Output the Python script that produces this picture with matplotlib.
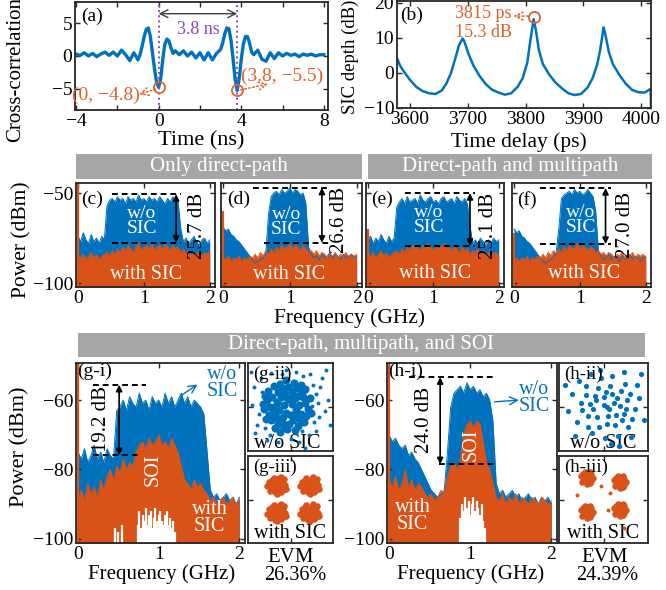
from __future__ import annotations

import os

import matplotlib as mpl
import matplotlib.pyplot as plt
from matplotlib import font_manager
from matplotlib.patches import Rectangle


W, H = 666, 590
BLUE = "#0072BD"
ORANGE = "#D95319"
NOTE = "#E0602A"
PURPLE = "#8E44C8"
ARROW_GREY = "#404040"
BANNER = "#A6A6A6"
SPINE = "#262626"

# (a) cross-correlation
CORR_T = [-4.0, -3.8, -3.6, -3.4, -3.2, -3.0, -2.8, -2.6, -2.4, -2.2, -2.0, -1.8, -1.6, -1.4,
          -1.2, -1.0, -0.9, -0.8, -0.7, -0.6, -0.5, -0.4, -0.3, -0.2, -0.1, 0.0, 0.1, 0.2,
          0.3, 0.4, 0.5, 0.6, 0.7, 0.8, 1.0, 1.2, 1.4, 1.6, 1.8, 2.0, 2.2, 2.4, 2.6, 2.8,
          3.0, 3.1, 3.2, 3.3, 3.4, 3.5, 3.6, 3.7, 3.8, 3.9, 4.0, 4.1, 4.2, 4.3, 4.4, 4.5,
          4.6, 4.8, 5.0, 5.2, 5.4, 5.6, 5.8, 6.0, 6.2, 6.4, 6.6, 6.8, 7.0, 7.2, 7.4, 7.6,
          7.8, 8.0]
CORR_V = [0.3, 0.1, 0.5, 0.0, 0.4, -0.1, 0.3, 0.6, 0.1, 0.6, 0.0, 0.9, 0.2, -0.7,
          0.5, -0.6, 0.2, 1.5, 3.0, 4.1, 4.3, 3.0, 0.5, -2.0, -4.0, -4.8, -3.5, -0.5,
          1.8, 2.6, 2.3, 1.2, 0.4, 0.8, 0.2, 0.8, 0.0, 0.6, -0.3, 0.5, -0.6, 0.5, -0.6, 0.4,
          1.0, 2.0, 3.4, 4.3, 4.2, 2.5, -0.3, -3.5, -5.3, -3.5, -0.5, 1.8, 3.0, 3.0, 2.0, 0.6,
          0.2, 0.9, -0.5, -0.8, 0.5, -0.4, 0.5, 0.0, 0.4, 0.1, 0.3, -0.1, 0.3, 0.1, 0.3, 0.0,
          0.2, 0.2]

# (b) SIC depth vs time delay
DELAY_PS = [3578, 3583, 3589, 3600, 3611, 3622, 3633, 3644, 3655, 3663, 3671, 3679, 3685, 3691,
            3694, 3701, 3710, 3721, 3731, 3742, 3753, 3764, 3775, 3786, 3795, 3803, 3808, 3814,
            3818, 3823, 3830, 3841, 3852, 3863, 3874, 3885, 3896, 3907, 3916, 3924, 3929, 3935,
            3938, 3944, 3951, 3962, 3973, 3984, 3995, 4006, 4014, 4016.5, 4017]
SIC_DB = [4.0, 2.0, 0.5, -2.0, -4.0, -5.2, -5.8, -6.0, -5.0, -3.0, 0.0, 4.5, 8.0, 9.8,
          9.0, 5.5, 2.0, -1.0, -3.2, -4.8, -5.6, -6.2, -5.8, -4.0, -1.5, 3.0, 9.0, 15.3,
          12.0, 6.5, 2.5, -0.5, -2.8, -4.4, -5.8, -6.3, -6.0, -4.2, -1.5, 2.5, 6.5, 13.0,
          11.0, 6.0, 2.5, -0.5, -3.0, -4.8, -5.5, -5.6, -4.8, -4.5, -10.0]
PEAK_PS, PEAK_DB = 3815, 15.3

# spectra (c)-(h), top of each trace in dBm
FREQ = [0.00, 0.04, 0.08, 0.12, 0.16, 0.20, 0.24, 0.28, 0.32, 0.36, 0.40, 0.44, 0.48,
        0.52, 0.56, 0.60, 0.64, 0.68, 0.72, 0.76, 0.80, 0.84, 0.88, 0.92, 0.96, 1.00,
        1.04, 1.08, 1.12, 1.16, 1.20, 1.24, 1.28, 1.32, 1.36, 1.40, 1.44, 1.48, 1.52,
        1.56, 1.60, 1.64, 1.68, 1.72, 1.76, 1.80, 1.84, 1.88, 1.92, 1.96, 2.00]

C_WO = [-74, -77, -72, -76, -78, -73, -77, -75, -78, -74, -76, -57,
        -54, -53, -55, -52, -54, -53, -56, -52, -54, -53, -55, -51, -54, -53, -55, -52,
        -54, -53, -55, -52, -54, -56, -53, -55, -52, -54, -55,
        -70, -77, -75, -78, -76, -74, -77, -79, -76, -75, -78, -76]
C_WITH = [-85, -86, -84, -87, -85, -83, -86, -84, -87, -85, -84,
          -83, -85, -82, -84, -81, -83, -80, -82, -79, -81,
          -83, -80, -78, -82, -80, -79, -81, -78, -82, -80,
          -79, -81, -78, -80, -82, -79, -81, -80, -83, -81,
          -84, -82, -85, -83, -84, -82, -85, -83, -84, -82]
D_WO = [-69, -71, -70, -73, -74, -76, -77, -79, -81, -83, -85, -87,
        -89, -88, -87, -86, -84, -62, -52,
        -50, -49, -51, -48, -50, -49, -47, -50, -48, -49, -51, -50, -56, -80,
        -84, -86, -85, -87, -84, -86, -85, -83, -86, -84, -85, -87, -84, -86, -85, -84, -86, -85]
D_WITH = [-86, -87, -85, -88, -86, -87, -85, -88, -86, -87, -85,
          -86, -84, -86, -83, -85, -82, -84, -81, -83, -80,
          -82, -79, -81, -80, -78, -81, -79, -80, -82, -79,
          -81, -83, -82, -84, -82, -85, -83, -84, -86, -84,
          -85, -83, -86, -84, -85, -83, -86, -84, -85, -84]
E_WO = [-76, -74, -78, -75, -77, -73, -76, -78, -74, -77, -75, -58,
        -55, -53, -56, -52, -55, -54, -53, -56, -51, -54, -55, -53, -52, -55, -54, -56,
        -53, -52, -55, -54, -53, -56, -52, -54, -55, -53, -56,
        -68, -78, -76, -78, -75, -77, -79, -76, -78, -75, -77, -76]
E_WITH = [-84, -85, -83, -86, -84, -82, -85, -83, -86, -84, -83,
          -82, -84, -81, -83, -80, -82, -79, -81, -80, -82,
          -79, -81, -78, -80, -82, -79, -81, -80, -78, -81,
          -80, -82, -79, -81, -83, -80, -82, -81, -84, -82,
          -83, -81, -84, -82, -85, -83, -82, -84, -83, -85]
F_WO = [-70, -72, -71, -74, -75, -77, -78, -80, -82, -84, -86,
        -88, -89, -88, -87, -86, -83, -70, -53,
        -51, -50, -49, -51, -48, -50, -49, -51, -50, -48, -50, -52, -60, -82,
        -85, -87, -86, -84, -87, -85, -86, -88, -85, -87, -86, -84, -87, -85, -86, -88, -86, -85]
F_WITH = [-87, -86, -88, -86, -87, -85, -88, -86, -87, -85, -86,
          -84, -86, -83, -85, -82, -84, -81, -83, -80, -82,
          -79, -81, -80, -78, -81, -79, -80, -82, -80, -81,
          -83, -82, -84, -83, -85, -83, -84, -86, -84, -85,
          -83, -86, -84, -85, -83, -86, -84, -85, -84, -86]
G_WO = [-75, -77, -74, -78, -76, -73, -77, -75, -78, -74, -76, -77, -63,
        -62, -60, -63, -59, -61, -62, -58, -61, -60, -63, -59, -61, -60, -62, -58, -61,
        -59, -62, -60, -58, -61, -59, -62, -60, -61,
        -62, -64, -75, -86, -88, -87, -89, -88, -87, -89, -88, -90, -88]
G_WITH = [-88, -86, -89, -84, -87, -85, -88, -83, -86,
          -82, -80, -83, -79, -81, -77, -80, -78, -79,
          -75, -73, -72, -74, -71, -73, -72, -70, -73, -72, -74, -71, -73, -75,
          -79, -83, -84, -86, -83, -85, -84, -86, -87,
          -89, -88, -90, -89, -88, -90, -89, -88, -90, -89]
H_WO = [-70, -72, -71, -73, -74, -73, -76, -75, -77, -78, -80,
        -82, -84, -86, -87, -88, -87, -86, -75, -62,
        -58, -57, -56, -58, -55, -57, -56, -58, -57, -59, -58, -60, -66, -84,
        -87, -86, -88, -87, -86, -88, -87, -89, -88, -87, -89, -88, -90, -88, -89, -88, -90]
H_WITH = [-83, -85, -82, -86, -84, -80, -85, -83, -86, -84, -85, -87,
          -88, -87, -89, -88, -86, -87, -82, -79, -78, -80, -77, -70,
          -67, -66, -68, -66, -67, -72, -78, -80, -84,
          -88, -89, -87, -90, -88, -89, -87, -90, -88, -89, -90, -88, -89, -90, -88, -89, -90, -89]

# white gaps at the bottom of the SOI band
G_GAP_F = [0.46, 0.50, 0.54, 0.74, 0.76, 0.78, 0.80, 0.82, 0.84, 0.86, 0.88, 0.90, 0.92, 0.94,
           0.96, 0.98, 1.00, 1.02, 1.04, 1.06, 1.08, 1.10, 1.12, 1.14, 1.16, 1.18, 1.20]
G_GAP_TOP = [-97, -98, -96, -96, -92, -97, -93, -95, -91, -96, -93, -92, -97, -94,
             -91, -95, -93, -92, -95, -96, -93, -92, -96, -94, -97, -95, -98]
H_GAP_F = [0.88, 0.90, 0.92, 0.94, 0.96, 0.98, 1.00, 1.02, 1.04, 1.06, 1.08, 1.10, 1.12,
           1.14, 1.16, 1.18]
H_GAP_TOP = [-94, -90, -92, -88, -91, -89, -93, -90, -88, -92, -89, -91, -93, -90, -95, -97]

# constellations
G_CLOUD_CORE = [(-0.30, 0.10), (0.20, 0.40), (-0.80, -0.20), (0.50, -0.30), (-0.10, 0.90),
                (-0.60, 0.70), (0.30, 0.85), (-1.10, 0.30), (0.70, 0.20), (-0.40, -0.70),
                (0.10, -0.60), (-0.90, -0.60), (0.55, 0.65), (-0.20, -0.25), (-0.65, 0.25),
                (0.05, 0.15), (-1.25, -0.10), (0.80, -0.10), (-0.50, 1.05), (0.15, 1.10),
                (-0.75, -0.95), (0.35, -0.85), (-1.05, 0.75), (0.65, -0.70), (-0.15, -1.00),
                (-0.45, 0.45), (0.40, 0.10), (-0.95, 0.00), (0.00, -0.35), (-0.35, -0.45),
                (0.25, -0.15), (-0.70, -0.45), (-0.25, 0.60), (0.60, 0.45), (-1.20, 0.50),
                (0.90, 0.40), (-0.55, -0.15), (0.10, 0.55), (-0.85, 0.45), (0.45, -0.55),
                (-0.05, -0.75), (-1.00, -0.35), (0.75, -0.40), (-0.40, 0.85), (0.20, -1.05),
                (-0.60, -0.75), (-0.10, 0.35), (0.35, 0.50), (-1.30, 0.15), (0.95, -0.25),
                (-0.30, -0.90), (-0.80, 0.95), (0.50, 1.00), (-0.20, 1.25), (-1.15, -0.55),
                (0.70, 0.80), (-0.50, -1.15), (0.05, 0.75), (-0.70, 0.05), (0.30, -0.40)]
G_CLOUD_OUT = [(1.40, 0.90), (1.60, -0.20), (1.20, -1.10), (-1.70, 0.90), (-1.60, -0.80),
               (0.90, 1.50), (-0.20, 1.70), (-0.90, 1.55), (1.75, 0.30), (0.40, -1.60),
               (-1.10, -1.50), (1.30, 0.20), (-1.80, 0.10), (0.60, 1.40), (1.10, -0.70),
               (-1.40, 1.30), (1.50, 1.30), (-0.60, -1.60), (0.00, -1.45), (1.05, 1.00),
               (-1.50, -0.30), (1.35, -0.45), (-0.95, -1.25), (0.85, -1.25), (-1.35, 0.70),
               (1.85, -0.80), (-0.40, 1.50), (0.25, 1.60), (1.20, 0.60), (-1.65, -1.20),
               (1.65, 1.70), (-1.85, 1.60), (0.70, -1.85), (1.00, 0.05), (-1.20, -0.95),
               (0.55, -1.10)]
H_CLOUD = [(0.15, 0.00), (0.60, 0.40), (-0.40, 0.50), (0.90, -0.30), (-0.70, -0.40),
           (0.30, 0.95), (-0.20, -0.90), (1.20, 0.60), (-1.00, 0.20), (0.50, -0.80),
           (0.00, 0.45), (-0.45, -0.10), (0.75, 0.05), (1.40, -0.10), (-1.20, -0.70),
           (0.20, -0.40), (-0.10, 1.30), (0.95, 1.05), (-0.80, 0.95), (0.40, 1.40),
           (1.10, -0.90), (-0.50, -1.20), (0.05, -1.40), (1.60, 0.40), (-1.40, 0.60),
           (0.65, -1.30), (-0.25, 0.85), (0.45, 0.20), (-0.60, 0.15), (1.05, 0.30),
           (0.25, -0.10), (-0.95, -0.15), (0.80, 0.75), (-0.30, -0.45), (0.55, -0.35),
           (1.30, -0.55), (-1.10, 1.20), (0.10, 0.70), (-0.70, -0.90), (1.50, 1.00),
           (-1.60, -0.20), (0.35, -1.70), (1.80, -0.60), (-0.15, 1.70), (0.90, 1.60),
           (-1.30, -1.30), (1.70, 1.50), (-0.55, 1.50), (0.70, -1.75), (1.25, -1.35),
           (-1.75, 1.00), (0.00, 0.10), (0.40, 0.60), (-0.35, 0.30), (0.85, -0.60),
           (0.15, -0.75), (-0.80, 0.55), (1.00, -0.10)]
G_QPSK_CENTERS = [(-0.65, 0.65), (0.90, 0.65), (-0.65, -0.60), (0.90, -0.60)]
G_QPSK_SPREAD = [(0.00, 0.00), (0.15, 0.10), (-0.12, 0.18), (0.25, -0.08), (-0.20, -0.15),
                 (0.05, -0.25), (0.30, 0.22), (-0.28, 0.05), (0.10, 0.32), (-0.05, -0.10),
                 (0.20, -0.30), (-0.33, -0.25), (0.38, 0.00), (-0.15, 0.35), (0.08, 0.12),
                 (-0.22, 0.25), (0.28, -0.20), (0.00, -0.38), (-0.38, 0.15), (0.18, 0.38),
                 (-0.10, -0.32), (0.35, 0.30), (0.45, -0.15), (-0.45, -0.05), (0.12, -0.15),
                 (-0.08, 0.05)]
H_QPSK_CENTERS = [(-0.74, 1.00), (0.74, 0.80), (-0.74, -0.57), (0.74, -0.48)]
H_QPSK_SPREAD = [(0.00, 0.00), (0.10, 0.08), (-0.10, 0.12), (0.18, -0.06), (-0.15, -0.10),
                 (0.04, -0.18), (0.20, 0.16), (-0.20, 0.02), (0.06, 0.24), (-0.04, -0.06),
                 (0.14, -0.22), (-0.24, -0.18), (0.26, 0.00), (-0.10, 0.26), (0.06, 0.08),
                 (-0.16, 0.18), (0.20, -0.14), (0.00, -0.28), (-0.28, 0.10), (0.12, 0.28)]
H_QPSK_STRAY = [(-0.10, 0.60), (0.30, 0.30), (-1.20, 0.20), (0.90, -1.30), (0.20, -0.50)]


def pick_serif() -> str:
    # a Times-like face; take a metric twin of Times if one is installed
    paths = font_manager.findSystemFonts()
    for key in ("LiberationSerif-Regular", "Tinos-Regular", "Tinos[", "FreeSerif.ttf"):
        for path in paths:
            if key in os.path.basename(path):
                try:
                    font_manager.fontManager.addfont(path)
                    return font_manager.FontProperties(fname=path).get_name()
                except Exception:
                    continue
    return "DejaVu Serif"


def configure_style() -> None:
    mpl.rcParams.update(
        {
            "font.family": [pick_serif(), "DejaVu Serif"],
            "font.size": 14,
            "axes.unicode_minus": True,
            "figure.facecolor": "white",
            "axes.facecolor": "white",
        }
    )


def px_axes(fig, left, top, right, bottom):
    return fig.add_axes([left / W, 1 - bottom / H, (right - left) / W, (bottom - top) / H])


def fig_text(fig, x, y, s, **kw):
    fig.text(x / W, 1 - y / H, s, ha="center", va="center", **kw)


def banner(fig, left, top, right, bottom, s):
    fig.add_artist(Rectangle((left / W, 1 - bottom / H), (right - left) / W, (bottom - top) / H,
                             transform=fig.transFigure, color=BANNER, lw=0))
    fig_text(fig, (left + right) / 2, (top + bottom) / 2, s, color="white", fontsize=15)


def style_box(ax, labelsize=14):
    for sp in ax.spines.values():
        sp.set_color(SPINE)
        sp.set_linewidth(1.3)
    ax.tick_params(direction="in", top=True, right=True, length=3.5, width=1.0,
                   colors=SPINE, labelcolor="black", labelsize=labelsize, pad=2)


def draw_spectrum(ax, wo, with_sic, ylim, dc_top, gaps=None):
    bottom = ylim[0]
    ax.fill_between(FREQ, bottom, wo, color=BLUE, lw=0)
    ax.plot(FREQ, wo, color=BLUE, lw=0.7)
    ax.fill_between(FREQ, bottom, with_sic, color=ORANGE, lw=0)
    ax.plot(FREQ, with_sic, color=ORANGE, lw=0.7)
    ax.vlines(0.0, bottom, dc_top, color=ORANGE, lw=1.6)
    if gaps is not None:
        ax.vlines(gaps[0], bottom, gaps[1], color="white", lw=1.6)
    ax.set_ylim(*ylim)


def depth_marker(ax, x, y_top, y_bot, x0, x1, x0_low=None):
    ax.hlines(y_top, x0, x1, color="black", lw=1.4, linestyles=(0, (3, 2)))
    ax.hlines(y_bot, x0 if x0_low is None else x0_low, x1, color="black", lw=1.4,
              linestyles=(0, (3, 2)))
    ax.annotate("", xy=(x, y_bot), xytext=(x, y_top),
                arrowprops=dict(arrowstyle="<|-|>", color="black", lw=1.2,
                                mutation_scale=9, shrinkA=0, shrinkB=0))


def draw_figure() -> plt.Figure:
    fig = plt.figure(figsize=(W / 100, H / 100), dpi=100)

    # (a)
    ax = px_axes(fig, 75, 2, 328, 110)
    ax.plot(CORR_T, CORR_V, color=BLUE, lw=2.4, solid_joinstyle="round")
    ax.axvline(0, color=PURPLE, ls=":", lw=1.4)
    ax.axvline(3.8, color=PURPLE, ls=":", lw=1.4)
    ax.annotate("", xy=(3.8, 6.5), xytext=(0, 6.5),
                arrowprops=dict(arrowstyle="<->", color=ARROW_GREY, lw=1.0, shrinkA=0, shrinkB=0))
    ax.text(1.9, 4.0, "3.8 ns", color=PURPLE, ha="center", va="center", fontsize=13)
    ax.plot([0, 3.8], [-4.8, -5.3], "o", mfc="none", mec=NOTE, ms=8, mew=1.3)
    ax.text(-2.55, -6.1, "(0, \u22124.8)", color=NOTE, ha="center", va="center", fontsize=14)
    ax.text(5.97, -3.1, "(3.8, \u22125.5)", color=NOTE, ha="center", va="center", fontsize=14)
    ax.annotate("", xy=(-0.95, -5.9), xytext=(-0.15, -5.1),
                arrowprops=dict(arrowstyle="->", color=NOTE, lw=1.1, ls=":", shrinkA=0, shrinkB=0))
    ax.annotate("", xy=(5.3, -4.3), xytext=(3.98, -5.2),
                arrowprops=dict(arrowstyle="->", color=NOTE, lw=1.1, ls=":", shrinkA=0, shrinkB=0))
    ax.text(-3.75, 6.1, "(a)", ha="left", va="center", fontsize=14)
    ax.set_xlim(-4.05, 8.2)
    ax.set_ylim(-8.3, 8.3)
    ax.set_xticks([-4, -2, 0, 2, 4, 6, 8], ["\u22124", "", "0", "", "4", "", "8"])
    ax.set_yticks([-5, 0, 5])
    style_box(ax)

    # (b)
    ax = px_axes(fig, 397, 1, 651, 108)
    ax.plot(DELAY_PS, SIC_DB, color=BLUE, lw=1.8)
    ax.plot([PEAK_PS - 1], [PEAK_DB + 0.7], "o", mfc="none", mec=NOTE, ms=8, mew=1.3)
    ax.annotate("", xy=(3779, 16.2), xytext=(3804, 16.2),
                arrowprops=dict(arrowstyle="->", color=NOTE, lw=1.1, ls=":", shrinkA=0, shrinkB=0))
    ax.text(3678, 16.8, f"{PEAK_PS} ps", color=NOTE, ha="left", va="center", fontsize=13)
    ax.text(3678, 11.6, f"{PEAK_DB} dB", color=NOTE, ha="left", va="center", fontsize=13)
    ax.text(3583, 16.3, "(b)", ha="left", va="center", fontsize=14)
    ax.set_xlim(3577.5, 4017)
    ax.set_ylim(-10, 20.5)
    ax.set_xticks([3600, 3700, 3800, 3900, 4000])
    ax.set_yticks([-10, 0, 10, 20])
    style_box(ax)

    fig_text(fig, 16, 70, "Cross-correlation", rotation=90, fontsize=15)
    fig_text(fig, 350, 57, "SIC depth (dB)", rotation=90, fontsize=13.5)
    fig_text(fig, 201, 141, "Time (ns)", fontsize=16)
    fig_text(fig, 519, 142, "Time delay (ps)", fontsize=15.5)

    # (c)-(f)
    banner(fig, 76, 154, 362, 179, "Only direct-path")
    banner(fig, 368, 154, 652, 179, "Direct-path and multipath")
    row_ylim = (-102.2, -44.4)
    rows = [
        ((76, 215), C_WO, C_WITH, -44.4, "(c)", (1.49, -50.6, -77.6, 0.51, 1.56, None),
         (1.82, -68, "25.7 dB"), (0.97, -65.5), (1.04, -95.5)),
        ((221, 362), D_WO, D_WITH, -60, "(d)", (1.48, -47, -77.6, 0.45, 1.58, 0.62),
         (1.74, -65, "26.6 dB"), (0.95, -66), (0.99, -95.5)),
        ((366, 504), E_WO, E_WITH, -70, "(e)", (1.56, -50, -79.3, 0.56, 1.64, None),
         (1.84, -68.5, "25.1 dB"), (0.93, -65), (1.02, -94.5)),
        ((512, 651), F_WO, F_WITH, -72, "(f)", (1.39, -47.2, -78.3, 0.40, 1.48, None),
         (1.69, -67.8, "27.0 dB"), (1.01, -65), (1.06, -94.5)),
    ]
    for idx, ((left, right), wo, wi, dc, tag, dm, lab, wo_xy, wi_xy) in enumerate(rows):
        ax = px_axes(fig, left, 183, right, 287)
        draw_spectrum(ax, wo, wi, row_ylim, dc)
        depth_marker(ax, dm[0], dm[1], dm[2], dm[3], dm[4], dm[5])
        ax.text(lab[0], lab[1], lab[2], rotation=90, ha="center", va="center", fontsize=15)
        ax.text(wo_xy[0], wo_xy[1], "w/o\nSIC", color="white", ha="center", va="center",
                fontsize=14, linespacing=0.85)
        ax.text(wi_xy[0], wi_xy[1], "with SIC", color="white", ha="center", va="center",
                fontsize=14.5)
        ax.text(0.04, 0.84, tag, transform=ax.transAxes, ha="left", va="center", fontsize=14)
        ax.set_xlim(-0.03, 2.08)
        ax.set_xticks([0, 1, 2])
        ax.set_yticks([-100, -50])
        if idx > 0:
            ax.set_yticklabels([])
        style_box(ax)
    fig_text(fig, 350, 318, "Frequency (GHz)", fontsize=15.5)
    fig_text(fig, 22, 240, "Power (dBm)", rotation=90, fontsize=15.5)

    # (g), (h)
    banner(fig, 78, 333, 645, 357, "Direct-path, multipath, and SOI")
    big_ylim = (-101.2, -49.3)
    bigs = [
        ((76, 245), G_WO, G_WITH, (G_GAP_F, G_GAP_TOP), "(g-i)",
         (0.51, -55.6, -75.9, 0.18, 0.84, 0.18, 0.76), (0.29, -65.5, "19.2 dB"),
         (0.93, -80), (1.79, -55), ((1.48, -55.5), (1.27, -58.8)), (1.63, -94)),
        ((387, 557), H_WO, H_WITH, (H_GAP_F, H_GAP_TOP), "(h-i)",
         (0.63, -53.4, -78.5, 0.25, 1.31, 0.61, 1.31), (0.44, -65.8, "24.0 dB"),
         (1.01, -73), (1.79, -59.4), ((1.6, -60.0), (1.3, -60.5)), (0.29, -93.5)),
    ]
    for (left, right), wo, wi, gaps, tag, dm, lab, soi, wo_xy, arr, wi_xy in bigs:
        ax = px_axes(fig, left, 363, right, 543)
        draw_spectrum(ax, wo, wi, big_ylim, -49.3, gaps)
        ax.hlines(dm[1], dm[3], dm[4], color="black", lw=1.4, linestyles=(0, (3, 2)))
        ax.hlines(dm[2], dm[5], dm[6], color="black", lw=1.4, linestyles=(0, (3, 2)))
        ax.annotate("", xy=(dm[0], dm[2]), xytext=(dm[0], dm[1]),
                    arrowprops=dict(arrowstyle="<|-|>", color="black", lw=1.2,
                                    mutation_scale=9, shrinkA=0, shrinkB=0))
        ax.text(lab[0], lab[1], lab[2], rotation=90, ha="center", va="center", fontsize=15)
        ax.text(soi[0], soi[1], "SOI", rotation=90, color="white", ha="center", va="center",
                fontsize=14.5)
        ax.text(wo_xy[0], wo_xy[1], "w/o\nSIC", color=BLUE, ha="center", va="center",
                fontsize=14.5, linespacing=0.85)
        ax.annotate("", xy=arr[0], xytext=arr[1],
                    arrowprops=dict(arrowstyle="->", color=BLUE, lw=1.0, shrinkA=0, shrinkB=0))
        ax.text(wi_xy[0], wi_xy[1], "with\nSIC", color="white", ha="center", va="center",
                fontsize=14.5, linespacing=0.85)
        ax.text(0.005, 0.955, tag, transform=ax.transAxes, ha="left", va="center", fontsize=14)
        ax.set_xlim(-0.025, 2.07)
        ax.set_xticks([0, 1, 2])
        ax.set_yticks([-100, -80, -60])
        style_box(ax)

    consts = [
        ((248, 333), "(g-ii)", "(g-iii)", G_CLOUD_CORE, G_CLOUD_OUT, G_QPSK_CENTERS,
         G_QPSK_SPREAD, [], (0.46, 0.49), 34, 22),
        ((559, 648), "(h-ii)", "(h-iii)", H_CLOUD, [], H_QPSK_CENTERS, H_QPSK_SPREAD,
         H_QPSK_STRAY, (0.5, 0.5), 14, 22),
    ]
    for (left, right), tag2, tag3, core, outer, centers, spread, stray, txt_x, s_core, s_q in consts:
        ax2 = px_axes(fig, left, 363, right, 451)
        ax2.text(txt_x[0], 0.09, "w/o SIC", transform=ax2.transAxes, ha="center", va="center",
                 fontsize=14.5, zorder=1)
        ax2.scatter([p[0] for p in core], [p[1] for p in core], s=s_core,
                    color=BLUE, lw=0, zorder=2)
        if outer:
            ax2.scatter([p[0] for p in outer], [p[1] for p in outer], s=8, color=BLUE, lw=0,
                        zorder=2)
        ax2.text(0.06, 0.875, tag2, transform=ax2.transAxes, ha="left", va="center",
                 fontsize=13.5, zorder=3)
        ax3 = px_axes(fig, left, 456, right, 543)
        ax3.text(txt_x[1], 0.11, "with SIC", transform=ax3.transAxes, ha="center",
                 va="center", fontsize=14.5, zorder=1)
        for cx, cy in centers:
            ax3.scatter([cx + dx for dx, dy in spread], [cy + dy for dx, dy in spread],
                        s=s_q, color=ORANGE, lw=0, zorder=2)
        if stray:
            ax3.scatter([p[0] for p in stray], [p[1] for p in stray], s=8, color=ORANGE, lw=0,
                        zorder=2)
        ax3.text(0.06, 0.875, tag3, transform=ax3.transAxes, ha="left", va="center",
                 fontsize=13.5, zorder=3)
        for a in (ax2, ax3):
            a.set_xlim(-2, 2)
            a.set_ylim(-2, 2)
            a.set_xticks([0], [""])
            a.set_yticks([0], [""])
            style_box(a)

    fig_text(fig, 20, 447, "Power (dBm)", rotation=90, fontsize=16)
    fig_text(fig, 162, 574, "Frequency (GHz)", fontsize=15)
    fig_text(fig, 471, 574, "Frequency (GHz)", fontsize=15)
    fig_text(fig, 291, 557, "EVM", fontsize=15)
    fig_text(fig, 295, 575, "26.36%", fontsize=14.5)
    fig_text(fig, 605, 557, "EVM", fontsize=15)
    fig_text(fig, 607, 575, "24.39%", fontsize=14.5)
    return fig


def main() -> int:
    configure_style()
    fig = draw_figure()
    fig.savefig("out.png", dpi=100)
    plt.close(fig)
    return 0


if __name__ == "__main__":
    raise SystemExit(main())
